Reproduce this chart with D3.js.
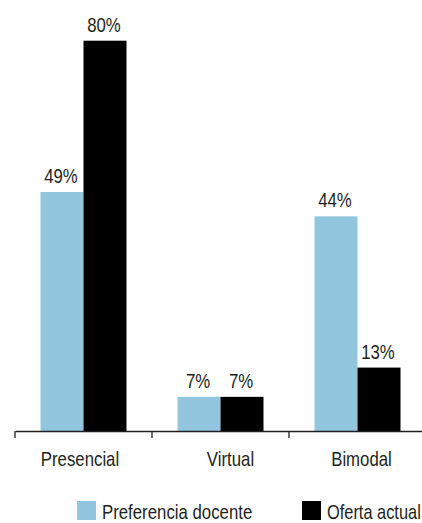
<!DOCTYPE html>
<html>
<head>
<meta charset="utf-8">
<script src="https://cdn.jsdelivr.net/npm/d3@7"></script>
<style>
  html, body { margin: 0; padding: 0; background: #fff; }
  svg { display: block; }
  text { font-family: "Liberation Sans", Arial, sans-serif; fill: #231f20; font-size: 20px; }
</style>
</head>
<body>
<svg id="chart" width="422" height="523"></svg>
<script>
// Modalidad de enseñanza: preferencia de los docentes vs. oferta actual (%)
const categories = ["Presencial", "Virtual", "Bimodal"];
const seriesNames = ["Preferencia docente", "Oferta actual"];
const preferencia = [49, 7, 44];
const oferta = [80, 7, 13];
const colors = ["#92c6df", "#000000"];

const svg = d3.select("#chart");
const baseY = 431;
const narrow = 0.84; // horizontal squeeze to mimic a condensed face

const x = d3.scaleBand().domain(categories).range([15, 426]).padding(0);
const groupW = 86;
const sub = d3.scaleBand().domain(seriesNames).range([0, groupW]).padding(0);
const y = d3.scaleLinear().domain([0, 80]).range([baseY, 40.7]);

const place = (px, py, sx = narrow) => `translate(${px},${py}) scale(${sx},1)`;

const rows = categories.map((c, i) => ({ cat: c, vals: [preferencia[i], oferta[i]] }));

const groups = svg.append("g").selectAll("g").data(rows).join("g")
  .attr("transform", d => `translate(${x(d.cat) + (x.bandwidth() - groupW) / 2},0)`);

groups.selectAll("rect").data(d => d.vals.map((v, j) => ({ v, s: seriesNames[j], j })))
  .join("rect")
  .attr("x", d => sub(d.s))
  .attr("width", sub.bandwidth())
  .attr("y", d => y(d.v))
  .attr("height", d => baseY - y(d.v))
  .attr("fill", d => colors[d.j]);

groups.selectAll("text.val").data(d => d.vals.map((v, j) => ({ v, s: seriesNames[j] })))
  .join("text")
  .attr("class", "val")
  .attr("transform", d => place(sub(d.s) + sub.bandwidth() / 2 - 1, y(d.v) - 9))
  .attr("text-anchor", "middle")
  .text(d => d.v + "%");

// Eje de categorías con marcas en los límites de cada grupo
const axis = d3.axisBottom(x).tickSizeOuter(0).tickFormat(() => "");
const ax = svg.append("g").attr("transform", `translate(0,${baseY})`).call(axis);
ax.select(".domain").attr("stroke", "#231f20").attr("stroke-width", 1.3);
ax.selectAll(".tick").remove();
ax.selectAll("line.edge").data(x.domain().map(c => x(c)).concat([x.range()[1]]))
  .join("line").attr("class", "edge")
  .attr("x1", d => d).attr("x2", d => d)
  .attr("y1", 0).attr("y2", 7)
  .attr("stroke", "#231f20").attr("stroke-width", 1.3);

// Etiquetas de categoría (ligeros ajustes horizontales)
const labelNudge = [-3.5, 10, 4];
svg.append("g").selectAll("text").data(categories).join("text")
  .attr("transform", (d, i) => place(x(d) + x.bandwidth() / 2 + labelNudge[i], 466))
  .attr("text-anchor", "middle")
  .text(d => d);

// Leyenda
const legendX = [77, 302];
const leg = svg.append("g").selectAll("g").data(seriesNames).join("g")
  .attr("transform", (d, i) => `translate(${legendX[i]},501)`);
leg.append("rect").attr("width", 19).attr("height", 19).attr("fill", (d, i) => colors[i]);
leg.append("text").attr("transform", (d, i) => place(25, 17.5, i ? 0.82 : narrow)).text(d => d);
</script>
</body>
</html>
